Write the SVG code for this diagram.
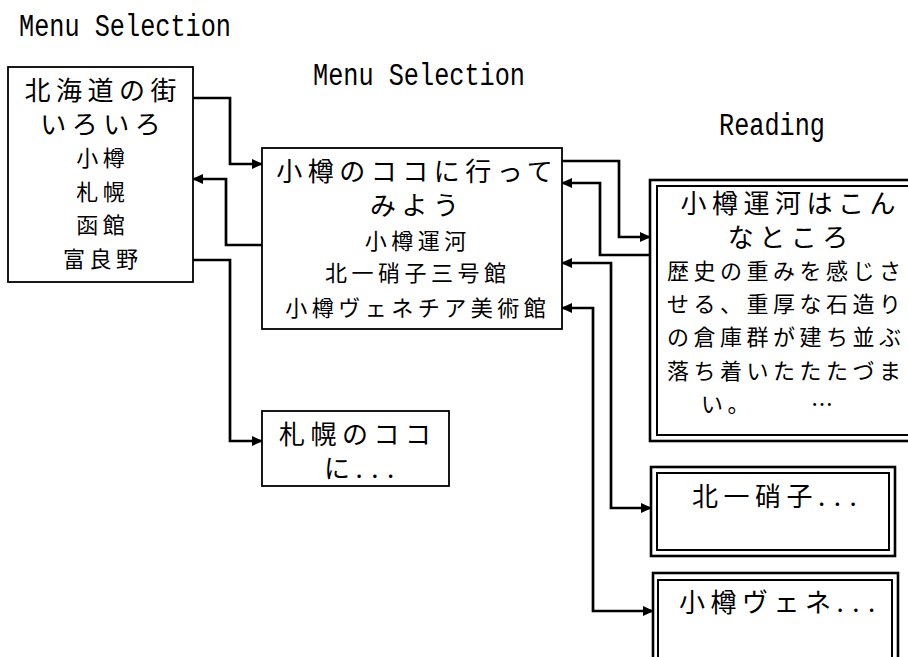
<svg xmlns="http://www.w3.org/2000/svg" width="908" height="657" viewBox="0 0 908 657">
<defs>
<marker id="arr" markerUnits="userSpaceOnUse" markerWidth="11" markerHeight="10" refX="10" refY="5" orient="auto-start-reverse" viewBox="0 0 11 10">
<path d="M0,0 L11,5 L0,10 z" fill="#000"/>
</marker>
<style>
.box{fill:#fff;stroke:#000;stroke-width:1.8}
.outer{fill:#fff;stroke:#000;stroke-width:2.6}
.inner{fill:none;stroke:#000;stroke-width:2}
.lbl{font-family:"Liberation Mono","DejaVu Sans Mono",monospace;font-size:31px;fill:#000}
.big{font-family:"Noto Sans CJK JP","Noto Sans",sans-serif;font-size:26px;letter-spacing:5.5px;text-anchor:middle;fill:#000}
.sm{font-family:"Noto Sans CJK JP","Noto Sans",sans-serif;font-size:22px;letter-spacing:4.5px;text-anchor:middle;fill:#000}
.st{text-anchor:start}
.dots{letter-spacing:8.5px}
.con{fill:none;stroke:#000;stroke-width:2.7;marker-end:url(#arr)}
.bi{marker-start:url(#arr)}
</style>
</defs>
<rect width="908" height="657" fill="#fff"/>
<g id="labels">
<text class="lbl" x="19" y="36" textLength="212" lengthAdjust="spacingAndGlyphs">Menu Selection</text>
<text class="lbl" x="313" y="85" textLength="212" lengthAdjust="spacingAndGlyphs">Menu Selection</text>
<text class="lbl" x="719" y="135" textLength="106" lengthAdjust="spacingAndGlyphs">Reading</text>
</g>
<g id="connectors">
<path class="con" d="M193,98 H230 V164 H262"/>
<path class="con" d="M262,245 H226 V179 H193"/>
<path class="con" d="M193,260 H230 V441 H262"/>
<path class="con" d="M562,161 H619 V237 H650"/>
<path class="con" d="M650,255 H600 V183 H562"/>
<path class="con bi" d="M562,263 H611 V508 H651"/>
<path class="con bi" d="M562,308 H593 V611 H653"/>
</g>
<g id="hokkaido">
<rect class="box" x="8" y="67" width="185" height="215"/>
<text class="big" x="103.25" y="100">北海道の街</text>
<text class="big" x="103.25" y="134">いろいろ</text>
<text class="sm" x="102.75" y="166">小樽</text>
<text class="sm" x="102.75" y="200">札幌</text>
<text class="sm" x="102.75" y="233">函館</text>
<text class="sm" x="102.75" y="267">富良野</text>
</g>
<g id="otaru">
<rect class="box" x="262" y="148" width="300" height="181"/>
<text class="big" x="417.25" y="181">小樽のココに行って</text>
<text class="big" x="417.25" y="215">みよう</text>
<text class="sm" x="417.75" y="249">小樽運河</text>
<text class="sm" x="417.75" y="281">北一硝子三号館</text>
<text class="sm" x="417.75" y="316">小樽ヴェネチア美術館</text>
</g>
<g id="sapporo">
<rect class="box" x="262" y="411" width="187" height="75"/>
<text class="big" x="357.75" y="444">札幌のココ</text>
<text class="big st" x="324" y="478">に<tspan class="dots">...</tspan></text>
</g>
<g id="unga">
<rect class="outer" x="650" y="180" width="300" height="261"/>
<rect class="inner" x="657" y="186" width="290" height="249"/>
<text class="big" x="790.75" y="213">小樽運河はこん</text>
<text class="big" x="790.75" y="247">なところ</text>
<text class="sm" x="786.25" y="279">歴史の重みを感じさ</text>
<text class="sm" x="786.25" y="312">せる、重厚な石造り</text>
<text class="sm" x="786.25" y="345">の倉庫群が建ち並ぶ</text>
<text class="sm" x="786.25" y="379">落ち着いたたたづま</text>
<text class="sm st" x="701" y="412">い。<tspan x="811">…</tspan></text>
</g>
<g id="kitaichi">
<rect class="outer" x="651" y="467" width="244" height="89"/>
<rect class="inner" x="657" y="473" width="232" height="77"/>
<text class="big st" x="692" y="506">北一硝子<tspan class="dots">...</tspan></text>
</g>
<g id="venezia">
<rect class="outer" x="653" y="573" width="245" height="100"/>
<rect class="inner" x="658" y="580" width="234" height="90"/>
<text class="big st" x="679" y="612">小樽ヴェネ<tspan class="dots">...</tspan></text>
</g>
</svg>
